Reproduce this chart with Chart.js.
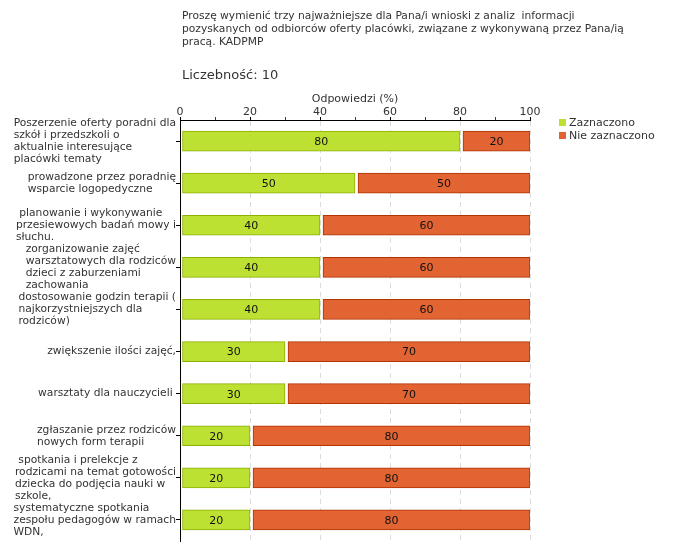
<!DOCTYPE html>
<html>
<head>
<meta charset="utf-8">
<script src="https://cdn.jsdelivr.net/npm/chart.js@4/dist/chart.umd.min.js"></script>
<style>
    body { margin: 0; background: #fff; font-family: "DejaVu Sans", Verdana, sans-serif; color: #333; }
    #wrap { position: relative; width: 680px; height: 560px; }
    #chart { position: absolute; left: 0; top: 0; }
    #title { position: absolute; left: 182px; top: 10px; font-size: 10.7px; line-height: 12.8px; white-space: pre; }
    #count { position: absolute; left: 182px; top: 67px; font-size: 13px; white-space: pre; }
    #legend { position: absolute; left: 559px; top: 116px; font-size: 11px; line-height: 13px; }
    #legend span.box { display: inline-block; width: 7px; height: 7px; margin-right: 3px; vertical-align: 0px; }
</style>
</head>
<body>
<div id="wrap">
    <canvas id="chart" width="680" height="560"></canvas>
    <div id="title">Proszę wymienić trzy najważniejsze dla Pana/i wnioski z analiz  informacji
pozyskanych od odbiorców oferty placówki, związane z wykonywaną przez Pana/ią
pracą. KADPMP</div>
    <div id="count">Liczebność: 10</div>
    <div id="legend"></div>
</div>
<script>
// Categories (each label already split into lines as in the original)
const categories = [
    ["Poszerzenie oferty poradni dla", "szkół i przedszkoli o", "aktualnie interesujące", "placówki tematy"],
    ["prowadzone przez poradnię", "wsparcie logopedyczne"],
    [" planowanie i wykonywanie", "przesiewowych badań mowy i", "słuchu."],
    ["zorganizowanie zajęć", "warsztatowych dla rodziców", "dzieci z zaburzeniami", "zachowania"],
    ["dostosowanie godzin terapii (", "najkorzystniejszych dla", "rodziców)"],
    ["zwiększenie ilości zajęć,"],
    ["warsztaty dla nauczycieli "],
    ["zgłaszanie przez rodziców", "nowych form terapii"],
    [" spotkania i prelekcje z", "rodzicami na temat gotowości", "dziecka do podjęcia nauki w", "szkole,"],
    ["systematyczne spotkania", "zespołu pedagogów w ramach", "WDN,"]
];
const zaznaczono = [80, 50, 40, 40, 40, 30, 30, 20, 20, 20];
const nieZaznaczono = [20, 50, 60, 60, 60, 70, 70, 80, 80, 80];
const seriesNames = ["Zaznaczono", "Nie zaznaczono"];
const majorTicks = [0, 20, 40, 60, 80, 100];

const FONT = '"DejaVu Sans", Verdana, sans-serif';
const fills = ["#bde132", "#e26432"];
const borders = ["#8cb000", "#b03300"];

// HTML legend
const legend = document.getElementById("legend");
seriesNames.forEach((name, i) => {
    const row = document.createElement("div");
    row.innerHTML = '<span class="box" style="background:' + fills[i] + '"></span>' + name;
    legend.appendChild(row);
});

// leave a small gap in front of every bar segment
const gapPlugin = {
    id: "gap",
    afterDatasetsUpdate(chart) {
        chart.data.datasets.forEach((ds, i) => {
            chart.getDatasetMeta(i).data.forEach(el => {
                el.base += (i === 0 ? 2 : 3);
            });
        });
    }
};

// value labels inside bars + multi-line category labels
const labelsPlugin = {
    id: "labels",
    afterDatasetsDraw(chart) {
        const ctx = chart.ctx;
        ctx.save();
        ctx.font = "11px " + FONT;
        ctx.fillStyle = "#111";
        ctx.textAlign = "center";
        ctx.textBaseline = "middle";
        chart.data.datasets.forEach((ds, i) => {
            chart.getDatasetMeta(i).data.forEach((el, j) => {
                ctx.fillText(String(ds.data[j]), (el.x + el.base) / 2, el.y + 1);
            });
        });

        const yScale = chart.scales.y;
        const right = chart.chartArea.left - 4;
        ctx.font = "10.7px " + FONT;
        ctx.fillStyle = "#333";
        ctx.textAlign = "left";
        categories.forEach((lines, i) => {
            const y = yScale.getPixelForTick(i);
            let maxW = 0;
            lines.forEach(l => { maxW = Math.max(maxW, ctx.measureText(l).width); });
            const lh = 12;
            const top = y - (lines.length - 1) * lh / 2;
            lines.forEach((l, k) => {
                ctx.fillText(l, right - maxW, top + k * lh);
            });
        });
        ctx.restore();
    }
};

new Chart(document.getElementById("chart"), {
    type: "bar",
    data: {
        labels: categories.map(c => c.join(" ")),
        datasets: [
            { label: seriesNames[0], data: zaznaczono, backgroundColor: fills[0], borderColor: borders[0], borderWidth: 1, borderSkipped: false, barThickness: 20 },
            { label: seriesNames[1], data: nieZaznaczono, backgroundColor: fills[1], borderColor: borders[1], borderWidth: 1, borderSkipped: false, barThickness: 20 }
        ]
    },
    options: {
        indexAxis: "y",
        responsive: false,
        animation: false,
        layout: { padding: { top: 88, right: 150, bottom: 19, left: 0 } },
        plugins: {
            legend: { display: false },
            tooltip: { enabled: false }
        },
        scales: {
            x: {
                position: "top",
                stacked: true,
                min: 0,
                max: 100,
                afterFit: scale => { scale.height = 32; },
                title: { display: true, text: "Odpowiedzi (%)", color: "#333", font: { family: FONT, size: 11 }, padding: { top: 5, bottom: 0 } },
                ticks: {
                    stepSize: 10,
                    autoSkip: false,
                    maxRotation: 0,
                    padding: -2,
                    color: "#333",
                    font: { family: FONT, size: 11 },
                    callback: v => majorTicks.includes(v) ? v : ""
                },
                grid: {
                    color: c => (c.tick && majorTicks.includes(c.tick.value) && c.tick.value !== 0) ? "#dcdcdc" : "rgba(0,0,0,0)",
                    tickColor: c => (c.tick && majorTicks.includes(c.tick.value)) ? "#000" : "#d00000",
                    tickLength: 3
                },
                border: { display: true, color: "#000", dash: [5, 4] }
            },
            y: {
                stacked: true,
                afterFit: scale => { scale.width = 180; },
                ticks: { display: false },
                grid: { offset: false, drawOnChartArea: false, tickColor: "#000", tickLength: 4 },
                border: { display: true, color: "#000" }
            }
        }
    },
    plugins: [gapPlugin, labelsPlugin]
});
</script>
</body>
</html>
